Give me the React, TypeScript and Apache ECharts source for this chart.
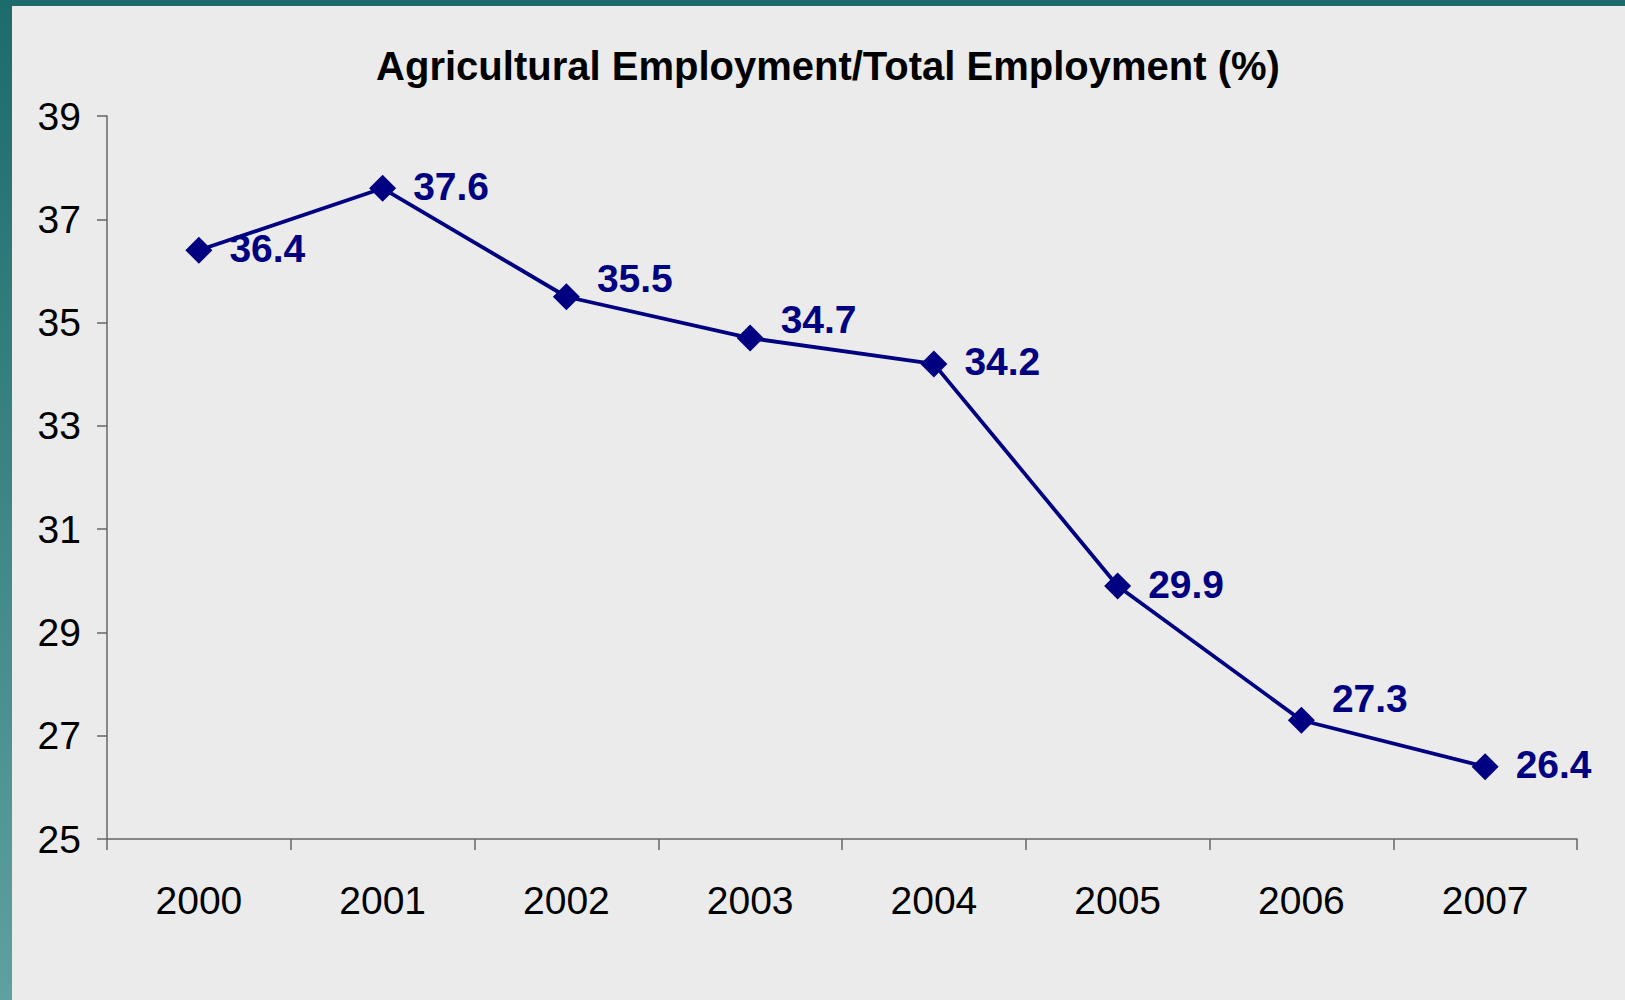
import React, { useEffect, useRef } from "react";
import * as echarts from "echarts";

const titleText = "Agricultural Employment/Total Employment (%)";
const years = ["2000", "2001", "2002", "2003", "2004", "2005", "2006", "2007"];
const shares = [36.4, 37.6, 35.5, 34.7, 34.2, 29.9, 27.3, 26.4];
const yTicks = [25, 27, 29, 31, 33, 35, 37, 39];
// vertical nudge of each data label (styling only)
const labelNudge = [-2, -2, -18, -19, -2, -1, -22, -2];

const FONT = "'Liberation Sans', Arial, Helvetica, sans-serif";
const NAVY = "#000080";
const AXIS = "#666666";

export default function App() {
  const ref = useRef<HTMLDivElement>(null);
  useEffect(() => {
    document.body.style.margin = "0";
    const chart = echarts.init(ref.current!, null, { renderer: "svg" });
    chart.setOption({
      animation: false,
      backgroundColor: "#ebebeb",
      title: {
        text: titleText,
        left: 823,
        top: 41,
        textAlign: "center",
        textStyle: { fontFamily: FONT, fontWeight: "bold", fontSize: 40, color: "#000" },
      },
      graphic: [
        {
          type: "rect",
          left: 0,
          top: 0,
          shape: { width: 12, height: 1000 },
          style: {
            fill: new echarts.graphic.LinearGradient(0, 0, 0, 1, [
              { offset: 0, color: "#1d6b6b" },
              { offset: 1, color: "#5fa0a0" },
            ]),
          },
          silent: true,
        },
        {
          type: "rect",
          left: 0,
          top: 0,
          shape: { width: 1625, height: 6 },
          style: { fill: "#1d6b6b" },
          silent: true,
        },
      ],
      grid: { left: 107, right: 48, top: 116, bottom: 161, containLabel: false },
      xAxis: {
        type: "category",
        data: years,
        boundaryGap: true,
        axisLine: { lineStyle: { color: AXIS, width: 1.5 } },
        axisTick: { show: true, length: 11, inside: false, lineStyle: { color: AXIS, width: 1.5 } },
        axisLabel: { margin: 42, fontFamily: FONT, fontSize: 39, color: "#000" },
        splitLine: { show: false },
      },
      yAxis: {
        type: "value",
        min: 25,
        max: 39,
        axisLine: { show: true, lineStyle: { color: AXIS, width: 1.5 } },
        axisTick: { show: true, length: 10, customValues: yTicks, lineStyle: { color: AXIS, width: 1.5 } },
        axisLabel: { margin: 26, customValues: yTicks, fontFamily: FONT, fontSize: 39, color: "#000" },
        splitLine: { show: false },
      },
      series: [
        {
          type: "line",
          data: shares.map((v, i) => ({
            value: v,
            label: { offset: [0, labelNudge[i]] },
          })),
          symbol: "diamond",
          symbolSize: 27,
          showAllSymbol: true,
          lineStyle: { color: NAVY, width: 3.8 },
          itemStyle: { color: NAVY },
          label: {
            show: true,
            position: "right",
            distance: 17,
            fontFamily: FONT,
            fontWeight: "bold",
            fontSize: 39,
            color: NAVY,
            formatter: (p: any) => Number(p.value).toFixed(1),
          },
        },
      ],
    });
    return () => chart.dispose();
  }, []);
  return (
    <div
      ref={ref}
      style={{ position: "absolute", left: 0, top: 0, width: 1625, height: 1000 }}
    />
  );
}
